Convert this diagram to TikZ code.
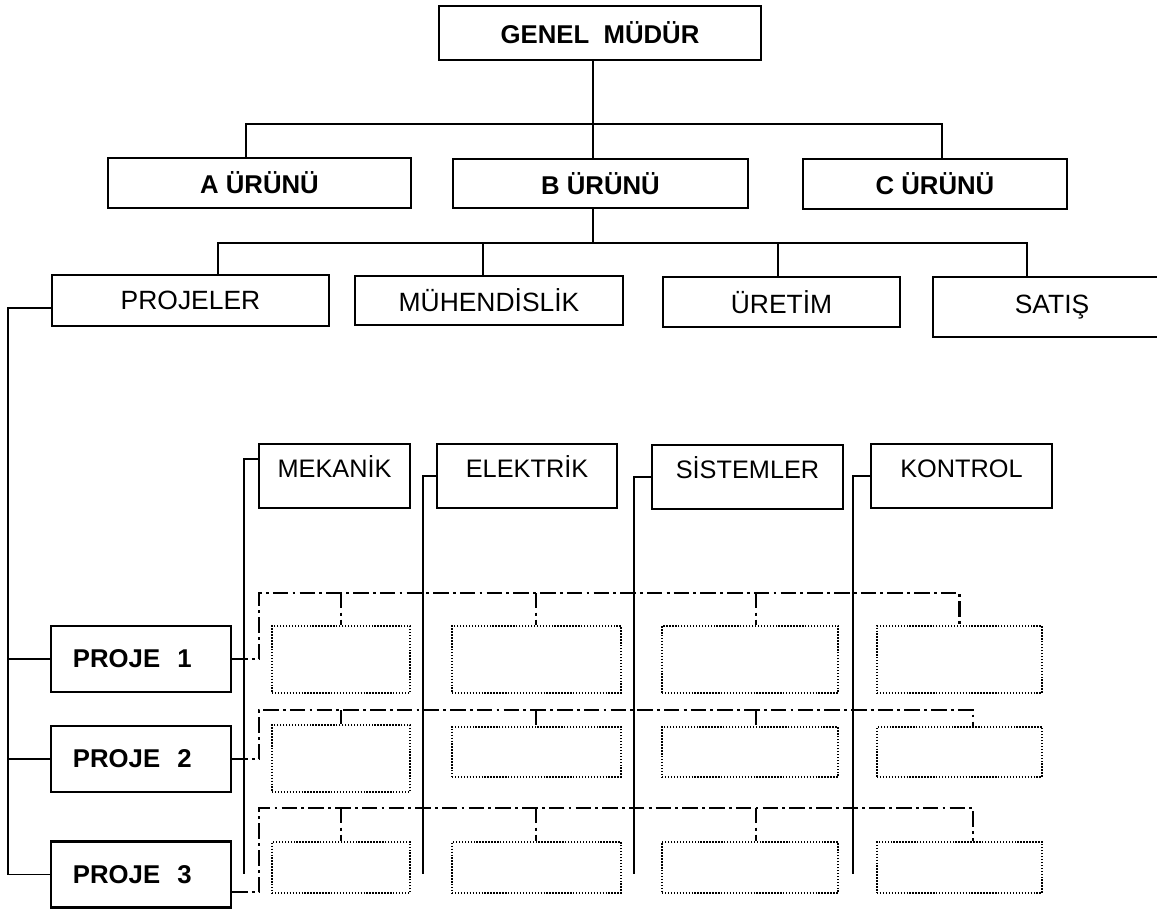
\documentclass[tikz,border=0pt]{standalone}
\usepackage{fontspec}
\setmainfont{Liberation Sans}
\usetikzlibrary{calc}

\tikzset{
  orgbox/.style={draw, line width=1.5pt, inner sep=0pt, font=\fontsize{18.8}{22}\selectfont},
  boldbox/.style={orgbox, font=\fontsize{18.3}{21}\selectfont\bfseries},
  projbox/.style={boldbox, text width=3.4cm, align=left, inner xsep=0.55cm, minimum height=1.65cm},
  deptbox/.style={orgbox, font=\fontsize{18}{21}\selectfont, text height=0.84cm, text depth=0.78cm},
  cellbox/.style={draw, line width=1.7pt, dash pattern=on 1pt off 1.1pt},
  orgline/.style={line width=1.1pt},
  railline/.style={line width=1.7pt},
  busline/.style={line width=1.8pt, dash pattern=on 11pt off 3pt on 2pt off 3pt},
}

\begin{document}
\begin{tikzpicture}[x=0.025cm, y=-0.025cm]
  \useasboundingbox (0,0) rectangle (1157,910);
  \clip (0,0) rectangle (1157,910);

  % top levels
  \node[boldbox, minimum width=8.05cm, minimum height=1.35cm] (gm) at (600,33) {GENEL~~MÜDÜR};
  \node[boldbox, minimum width=7.575cm, minimum height=1.25cm] (a) at (259.5,183) {A ÜRÜNÜ};
  \node[boldbox, minimum width=7.375cm, minimum height=1.225cm] (b) at (600.5,183.5) {B ÜRÜNÜ};
  \node[boldbox, minimum width=6.6cm, minimum height=1.25cm] (c) at (935,184) {C ÜRÜNÜ};

  \node[orgbox, minimum width=6.925cm, minimum height=1.275cm] (proj) at (190.5,300.5) {PROJELER};
  \node[orgbox, minimum width=6.7cm, minimum height=1.225cm] (muh) at (489,300.5) {MÜHENDİSLİK};
  \node[orgbox, minimum width=5.925cm, minimum height=1.25cm] (ure) at (781.5,302) {ÜRETİM};
  \node[orgbox, minimum width=5.95cm, minimum height=1.5cm] (sat) at (1052,307) {SATIŞ};

  \coordinate (topl) at (246,124);
  \coordinate (topr) at (942,124);
  \coordinate (midl) at (218,243);
  \coordinate (midr) at (1027,243);
  \draw[orgline] (gm.south -| 593,0) -- (b.north -| 593,0);
  \draw[orgline] (a.north -| topl) -- (topl) -- (topr) -- (c.north -| topr);
  \draw[orgline] (b.south -| 593,0) -- (593,243);
  \draw[orgline] (proj.north -| midl) -- (midl) -- (midr) -- (sat.north -| midr);
  \draw[orgline] (muh.north -| 483,0) -- (483,243);
  \draw[orgline] (ure.north -| 778,0) -- (778,243);

  % departments
  \node[deptbox, minimum width=3.775cm] (mek) at (334.5,476) {MEKANİK};
  \node[deptbox, minimum width=4.5cm] (elk) at (527,476) {ELEKTRİK};
  \node[deptbox, minimum width=4.775cm] (sis) at (747.5,477) {SİSTEMLER};
  \node[deptbox, minimum width=4.525cm] (kon) at (961.5,476) {KONTROL};

  % projects
  \node[projbox] (p1) at (141,659) {PROJE~~1};
  \node[projbox] (p2) at (141,759) {PROJE~~2};
  \node[projbox] (p3) at (141,874.5) {PROJE~~3};

  \coordinate (rail) at (8,308);
  \draw[orgline] ($(proj.west)+(0,7.5)$) -| (p3.west -| rail) -- (p3.west);
  \draw[orgline] (p1.west) -- (p1.west -| rail);
  \draw[orgline] (p2.west) -- (p2.west -| rail);

  % matrix cells
  \foreach \n/\x/\y/\w/\h in {c11/341/659.5/3.45/1.675, c12/536.5/659.5/4.225/1.675,
      c13/750/659.5/4.4/1.675, c14/959.5/659.5/4.125/1.675,
      c21/341/758.5/3.45/1.675, c22/536.5/752/4.225/1.25,
      c23/750/752/4.4/1.25, c24/959.5/752/4.125/1.25,
      c31/341/867.5/3.45/1.275, c32/536.5/867.5/4.225/1.275,
      c33/750/867.5/4.4/1.275, c34/959.5/867.5/4.125/1.275}
    \node[cellbox, minimum width=\w cm, minimum height=\h cm] (\n) at (\x,\y) {};

  % project buses
  \draw[busline] (p1.east) -| (259,593) -| (c14.north);
  \draw[busline] (p2.east) -| (259,710) -| (c24.north -| 973,0);
  \draw[busline] ($(p3.east)+(0,17.5)$) -| (259,808) -| (c34.north -| 973,0);
  \foreach \r/\y in {1/593, 2/710, 3/808}
    \foreach \k/\x in {1/341, 2/536, 3/756}
      \draw[busline] (\x,\y) -- (c\r\k.north -| \x,0);

  % department rails
  \coordinate (mekend) at (244,874);
  \coordinate (elkend) at (423,874);
  \coordinate (sisend) at (634,874);
  \coordinate (konend) at (853,874);
  \draw[railline] ($(mek.west)+(0,-17)$) -| (mekend);
  \draw[railline] (elk.west) -| (elkend);
  \draw[railline] (sis.west) -| (sisend);
  \draw[railline] (kon.west) -| (konend);
\end{tikzpicture}
\end{document}
